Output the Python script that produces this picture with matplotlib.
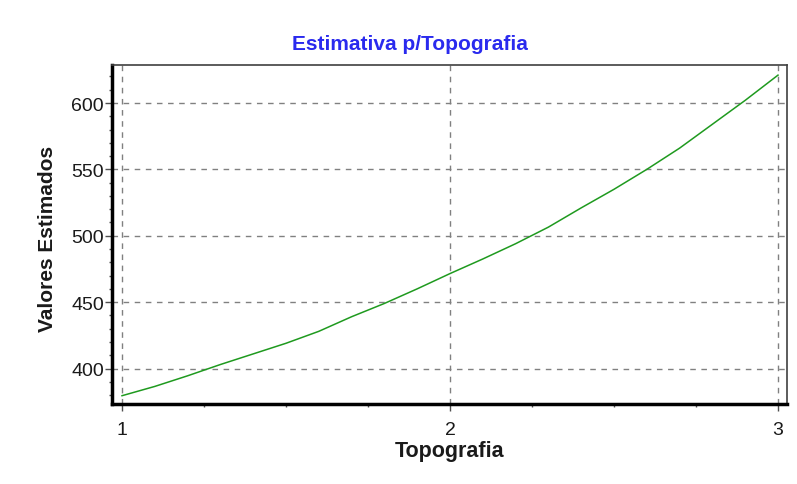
import matplotlib
matplotlib.use("Agg")
import matplotlib.pyplot as plt
from matplotlib.ticker import MultipleLocator

plt.rcParams['font.family'] = ['Liberation Sans', 'DejaVu Sans']

topografia = [1.0, 1.1, 1.2, 1.3, 1.4, 1.5, 1.6, 1.7, 1.8, 1.9, 2.0,
              2.1, 2.2, 2.3, 2.4, 2.5, 2.6, 2.7, 2.8, 2.9, 3.0]
valores = [379.5, 386.5, 394.5, 403, 411, 419, 428, 439, 449, 460, 471.5,
           482.5, 494, 506.5, 521, 535, 550, 566, 584, 602, 621]
xticks = [1, 2, 3]
yticks = [400, 450, 500, 550, 600]

W, H = 797, 485
fig = plt.figure(figsize=(W/100, H/100), dpi=100)
ax = fig.add_axes([112/W, 1-405/H, (787-112)/W, (405-66)/H])

ax.plot(topografia, valores, color='#1f9a1f', lw=1.1)

ax.set_xlim(1 - 10/328, 3 + 9/328)
ax.set_ylim(400 - 35.5/1.3275, 600 + 38/1.3275)
ax.set_xticks(xticks)
ax.set_yticks(yticks)
ax.xaxis.set_minor_locator(MultipleLocator(0.25))
ax.yaxis.set_minor_locator(MultipleLocator(10))

ax.grid(True, which='major', color='#808080', ls=(0, (4, 4)), lw=1)
ax.set_axisbelow(True)

for s in ['left', 'bottom']:
    ax.spines[s].set_linewidth(2.5)
    ax.spines[s].set_color('black')
for s in ['top', 'right']:
    ax.spines[s].set_linewidth(1.2)
    ax.spines[s].set_color('#404040')

ax.tick_params(which='major', direction='out', length=5, width=1, color='#505050',
               labelsize=14, labelcolor='#1a1a1a')
ax.tick_params(axis='x', which='major', pad=7)
ax.tick_params(axis='y', which='major', pad=0.8)
ax.tick_params(which='minor', direction='out', length=2.5, width=1, color='#505050')

fig.text(450/W, 1-457/H, 'Topografia', fontsize=15.5, fontweight='bold',
         color='#1a1a1a', ha='center', va='baseline')
fig.text(48/W, 1-239/H, 'Valores Estimados', fontsize=15, fontweight='bold',
         color='#1a1a1a', ha='center', va='center', rotation=90)
fig.text(410/W, 1-50/H, 'Estimativa p/Topografia', fontsize=15, fontweight='bold',
         color='#2a2aee', ha='center', va='baseline')

fig.savefig('out.png', dpi=100)
